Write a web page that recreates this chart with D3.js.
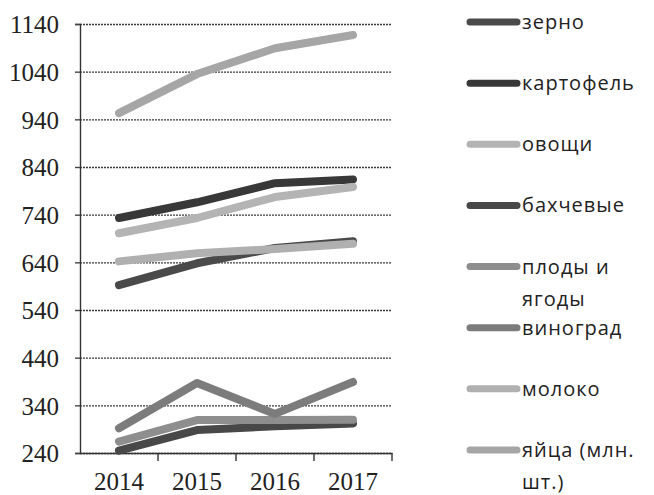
<!DOCTYPE html>
<html>
<head>
<meta charset="utf-8">
<script src="https://cdn.jsdelivr.net/npm/d3@7"></script>
<style>
  body { margin: 0; background: #fff; }
  .tick-label { font-family: "Liberation Serif", serif; fill: #222; }
  .legend-label { font-family: "Open Sans", sans-serif; font-size: 20px; letter-spacing: 1px; fill: #222; }
</style>
</head>
<body>
<div id="chart"></div>
<script>
// values
const years = ["2014", "2015", "2016", "2017"];
const yTicks = [240, 340, 440, 540, 640, 740, 840, 940, 1040, 1140];

const seriesNames = ["зерно", "картофель", "овощи", "бахчевые", "плоды и ягоды", "виноград", "молоко", "яйца (млн. шт.)"];
const legendLines = [["зерно"], ["картофель"], ["овощи"], ["бахчевые"], ["плоды и", "ягоды"], ["виноград"], ["молоко"], ["яйца (млн.", "шт.)"]];
const zerno = [592, 638, 670, 684];
const kartofel = [733, 766, 806, 814];
const ovoshchi = [701, 733, 777, 798];
const bakhchevye = [245, 288, 296, 302];
const plody = [264, 309, 309, 310];
const vinograd = [292, 387, 322, 389];
const moloko = [642, 659, 668, 679];
const yaitsa = [953, 1035, 1089, 1117];
const seriesValues = [zerno, kartofel, ovoshchi, bakhchevye, plody, vinograd, moloko, yaitsa];
const seriesColors = ["#4a4a4a", "#383838", "#b4b4b4", "#484848", "#8e8e8e", "#7c7c7c", "#b0b0b0", "#a6a6a6"];

const W = 654, H = 495;
const plot = { left: 80, right: 392, top: 24, bottom: 453 };

const svg = d3.select("#chart").append("svg")
    .attr("width", W)
    .attr("height", H);

const x = d3.scaleBand().domain(years).range([plot.left, plot.right]);
const y = d3.scaleLinear().domain([240, 1140]).range([plot.bottom, plot.top]);

// horizontal grid
svg.append("g")
    .attr("transform", `translate(${plot.left},0)`)
    .call(d3.axisLeft(y).tickValues(yTicks).tickSize(-(plot.right - plot.left)).tickFormat(""))
    .call(g => g.select(".domain").remove())
    .selectAll("line")
    .attr("stroke", "#3a3a3a")
    .attr("stroke-width", 1.4)
    .attr("stroke-dasharray", "2,1");

// y axis with tick marks poking out left
const yAxis = svg.append("g")
    .attr("transform", `translate(${plot.left},0)`)
    .call(d3.axisLeft(y).tickValues(yTicks).tickSize(5).tickPadding(16).tickFormat(d3.format("d")));
yAxis.select(".domain").attr("stroke", "#333").attr("stroke-width", 1.4);
yAxis.selectAll("line").attr("stroke", "#444").attr("stroke-width", 1.4);
yAxis.selectAll("text").attr("class", "tick-label").style("font-size", "25px").attr("dy", "0.35em");

// x axis, category boundaries as ticks
const xAxis = svg.append("g")
    .attr("transform", `translate(0,${plot.bottom})`)
    .call(d3.axisBottom(x).tickSize(0).tickPadding(22));
xAxis.select(".domain").attr("stroke", "#333").attr("stroke-width", 1.4);
xAxis.selectAll("text").attr("class", "tick-label").style("font-size", "25px").attr("dy", "0.6em");

svg.append("g")
    .selectAll("line")
    .data(years.slice(1).concat(["end"]))
    .join("line")
    .attr("x1", (d, i) => x(years[0]) + x.step() * (i + 1))
    .attr("x2", (d, i) => x(years[0]) + x.step() * (i + 1))
    .attr("y1", plot.bottom)
    .attr("y2", plot.bottom + 8)
    .attr("stroke", "#333")
    .attr("stroke-width", 1.4);

// series lines
const line = d3.line()
    .x((d, i) => x(years[i]) + x.bandwidth() / 2)
    .y(d => y(d));

svg.append("g")
    .selectAll("path")
    .data(seriesValues)
    .join("path")
    .attr("fill", "none")
    .attr("stroke", (d, i) => seriesColors[i])
    .attr("stroke-width", 8)
    .attr("stroke-linecap", "round")
    .attr("stroke-linejoin", "round")
    .attr("d", line);

// legend
const legendY = d3.scaleLinear().domain([0, 7]).range([22, 450]);
const legend = svg.append("g")
    .selectAll("g")
    .data(seriesNames)
    .join("g")
    .attr("transform", (d, i) => `translate(0,${legendY(i)})`);

legend.append("line")
    .attr("x1", 470).attr("x2", 517)
    .attr("y1", 0).attr("y2", 0)
    .attr("stroke", (d, i) => seriesColors[i])
    .attr("stroke-width", 7)
    .attr("stroke-linecap", "round");

legend.append("text")
    .attr("class", "legend-label")
    .attr("x", 522)
    .attr("y", 0)
    .attr("dy", "0.35em")
    .each(function (d, i) {
        d3.select(this).selectAll("tspan")
            .data(legendLines[i])
            .join("tspan")
            .attr("x", 522)
            .attr("dy", (t, j) => j === 0 ? null : "1.6em")
            .text(t => t);
    });
</script>
</body>
</html>
